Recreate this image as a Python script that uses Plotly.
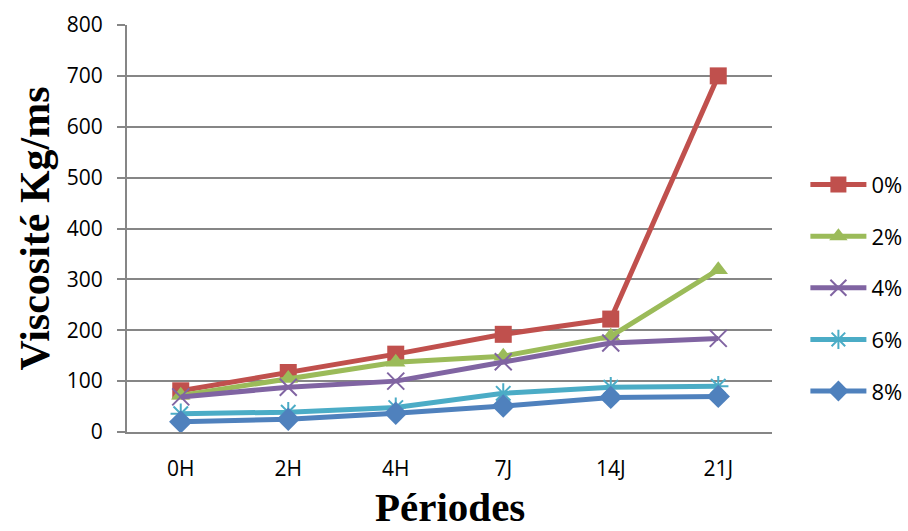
import plotly.graph_objects as go

periods = ["0H", "2H", "4H", "7J", "14J", "21J"]
series_names = ["0%", "2%", "4%", "6%", "8%"]
v0 = [81, 117, 153, 192, 222, 700]
v2 = [72, 105, 137, 149, 188, 319]
v4 = [69, 88, 100, 138, 175, 184]
v6 = [36, 39, 48, 76, 88, 90]
v8 = [20, 25, 37, 51, 68, 70]
values = [v0, v2, v4, v6, v8]
y_ticks = [0, 100, 200, 300, 400, 500, 600, 700, 800]

colors = ["#C0504D", "#9BBB59", "#8064A2", "#4BACC6", "#4F81BD"]
symbols = ["square", "triangle-up", "x-thin-open", "asterisk-open", "diamond"]
msizes = [17, 17, 17, 17, 18]

fig = go.Figure()
for i, (name, vals) in enumerate(zip(series_names, values)):
    marker = dict(symbol=symbols[i], size=msizes[i], color=colors[i])
    if symbols[i].endswith("open"):
        marker["line"] = dict(color=colors[i], width=2)
    else:
        marker["line"] = dict(width=0)
    fig.add_trace(go.Scatter(
        x=periods, y=vals, name=name, mode="lines+markers",
        line=dict(color=colors[i], width=5),
        marker=marker, legendgroup=name,
    ))

fig.update_layout(
    width=908, height=531,
    margin=dict(l=127, r=136, t=25, b=99, autoexpand=False),
    paper_bgcolor="white", plot_bgcolor="white",
    font=dict(family="Open Sans, Lato, sans-serif", size=21, color="black"),
    showlegend=True,
    legend=dict(xref="container", yref="container", x=0.887, y=0.458,
                xanchor="left", yanchor="middle",
                font=dict(size=22, family="Open Sans, sans-serif"),
                tracegroupgap=20, itemwidth=56, bgcolor="rgba(0,0,0,0)"),
    xaxis=dict(
        type="category", range=[-0.5, 5.5], automargin=False,
        showgrid=False, showline=True,
        linecolor="#868686", linewidth=2, ticks="", ticklabelstandoff=17,
        tickfont=dict(size=21),
    ),
    yaxis=dict(
        range=[0, 800], tickvals=y_ticks, automargin=False, showgrid=True,
        gridcolor="#868686", gridwidth=1.5, showline=True,
        linecolor="#868686", linewidth=2, ticks="outside", ticklen=8,
        tickcolor="#868686", tickwidth=1.5, zeroline=False,
        ticklabelstandoff=10,
        tickfont=dict(size=21),
        title=dict(text="<b>Viscosité Kg/ms</b>", standoff=4,
                   font=dict(family="Liberation Serif, Times New Roman, serif", size=42)),
    ),
    annotations=[dict(
        text="<b>Périodes</b>", xref="paper", yref="paper",
        x=0.5, y=-0.2425, xanchor="center", yanchor="bottom", showarrow=False,
        borderpad=0,
        font=dict(family="Liberation Serif, Times New Roman, serif", size=41, color="black"),
    )],
)

fig.write_html("out.html")
